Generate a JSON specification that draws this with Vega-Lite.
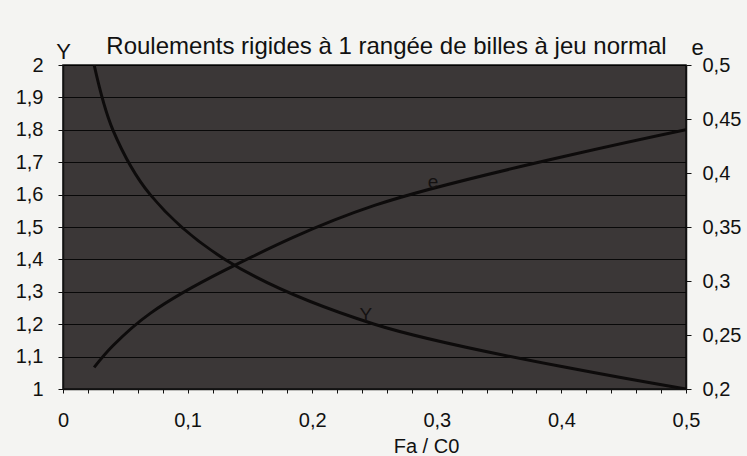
{
  "$schema": "https://vega.github.io/schema/vega-lite/v6.json",
  "width": 623,
  "height": 324,
  "autosize": {"type": "none"},
  "padding": {"left": 63, "top": 65, "right": 61, "bottom": 67},
  "background": "#f4f4f2",
  "config": {
    "font": "Liberation Sans",
    "view": {"fill": "#3b3737", "stroke": "#111111", "strokeWidth": 1.5},
    "axis": {
      "labelFont": "Liberation Sans",
      "titleFont": "Liberation Sans",
      "labelFontSize": 20,
      "titleFontSize": 20,
      "labelColor": "#111111",
      "titleColor": "#111111",
      "titleFontWeight": "normal",
      "domainColor": "#111111",
      "domainWidth": 1.5,
      "tickColor": "#111111",
      "tickWidth": 1
    }
  },
  "title": {
    "text": "Roulements rigides à 1 rangée de billes à jeu normal",
    "fontSize": 24,
    "fontWeight": "normal",
    "font": "Liberation Sans",
    "color": "#111111",
    "anchor": "middle",
    "frame": "group",
    "baseline": "alphabetic",
    "offset": 0,
    "dy": 42,
    "dx": 12
  },
  "data": {
    "values": [
      {"fa": 0.025, "Y": 2.0, "e": 0.22},
      {"fa": 0.04, "Y": 1.8, "e": 0.24},
      {"fa": 0.07, "Y": 1.6, "e": 0.27},
      {"fa": 0.13, "Y": 1.4, "e": 0.31},
      {"fa": 0.25, "Y": 1.2, "e": 0.37},
      {"fa": 0.5, "Y": 1.0, "e": 0.44}
    ]
  },
  "encoding": {
    "x": {
      "field": "fa",
      "type": "quantitative",
      "scale": {"domain": [0, 0.5], "nice": false, "zero": false},
      "axis": {
        "title": "Fa / C0",
        "values": [0, 0.02, 0.04, 0.06, 0.08, 0.1, 0.12, 0.14, 0.16, 0.18, 0.2, 0.22, 0.24, 0.26, 0.28, 0.3, 0.32, 0.34, 0.36, 0.38, 0.4, 0.42, 0.44, 0.46, 0.48, 0.5],
        "labelExpr": "abs(datum.value*10 - round(datum.value*10)) < 0.001 ? replace(format(datum.value, '~g'), '.', ',') : ''",
        "tickSize": 4,
        "labelPadding": 17,
        "labelFlush": false,
        "labelOverlap": false,
        "grid": false,
        "titleX": 363,
        "titleY": 63,
        "titleBaseline": "alphabetic",
        "titleAnchor": null
      }
    }
  },
  "layer": [
    {
      "encoding": {
        "y": {
          "field": "Y",
          "type": "quantitative",
          "scale": {"domain": [1, 2], "nice": false, "zero": false},
          "axis": {
            "orient": "left",
            "title": "Y",
            "values": [1, 1.1, 1.2, 1.3, 1.4, 1.5, 1.6, 1.7, 1.8, 1.9, 2],
            "labelExpr": "replace(format(datum.value, '~g'), '.', ',')",
            "labelOverlap": false,
            "tickSize": 5,
            "labelPadding": 15,
            "grid": true,
            "gridColor": "#000000",
            "gridWidth": 1,
            "gridOpacity": 0.85,
            "titleAngle": 0,
            "titleX": 0,
            "titleY": -7,
            "titleAlign": "center",
            "titleBaseline": "alphabetic",
            "titleFontSize": 22
          }
        }
      },
      "layer": [
        {
          "mark": {"type": "line", "color": "#0d0b0b", "strokeWidth": 3, "interpolate": "catmull-rom", "clip": true}
        },
        {
          "data": {"values": [{"fa": 0.243, "Y": 1.228, "label": "Y"}]},
          "mark": {"type": "text", "fontSize": 19, "color": "#141111", "font": "Liberation Sans"},
          "encoding": {
            "text": {"field": "label"}
          }
        }
      ]
    },
    {
      "encoding": {
        "y": {
          "field": "e",
          "type": "quantitative",
          "scale": {"domain": [0.2, 0.5], "nice": false, "zero": false},
          "axis": {
            "orient": "right",
            "title": "e",
            "values": [0.2, 0.25, 0.3, 0.35, 0.4, 0.45, 0.5],
            "labelExpr": "replace(format(datum.value, '~g'), '.', ',')",
            "labelOverlap": false,
            "tickSize": 5,
            "labelPadding": 11,
            "grid": false,
            "titleAngle": 0,
            "titleX": 11,
            "titleY": -11,
            "titleAlign": "center",
            "titleBaseline": "alphabetic",
            "titleFontSize": 22
          }
        }
      },
      "layer": [
        {
          "mark": {"type": "line", "color": "#0d0b0b", "strokeWidth": 3, "interpolate": "catmull-rom", "clip": true}
        },
        {
          "data": {"values": [{"fa": 0.297, "e": 0.392, "label": "e"}]},
          "mark": {"type": "text", "fontSize": 19, "color": "#141111", "font": "Liberation Sans"},
          "encoding": {
            "text": {"field": "label"}
          }
        }
      ]
    }
  ],
  "resolve": {"scale": {"y": "independent"}}
}
